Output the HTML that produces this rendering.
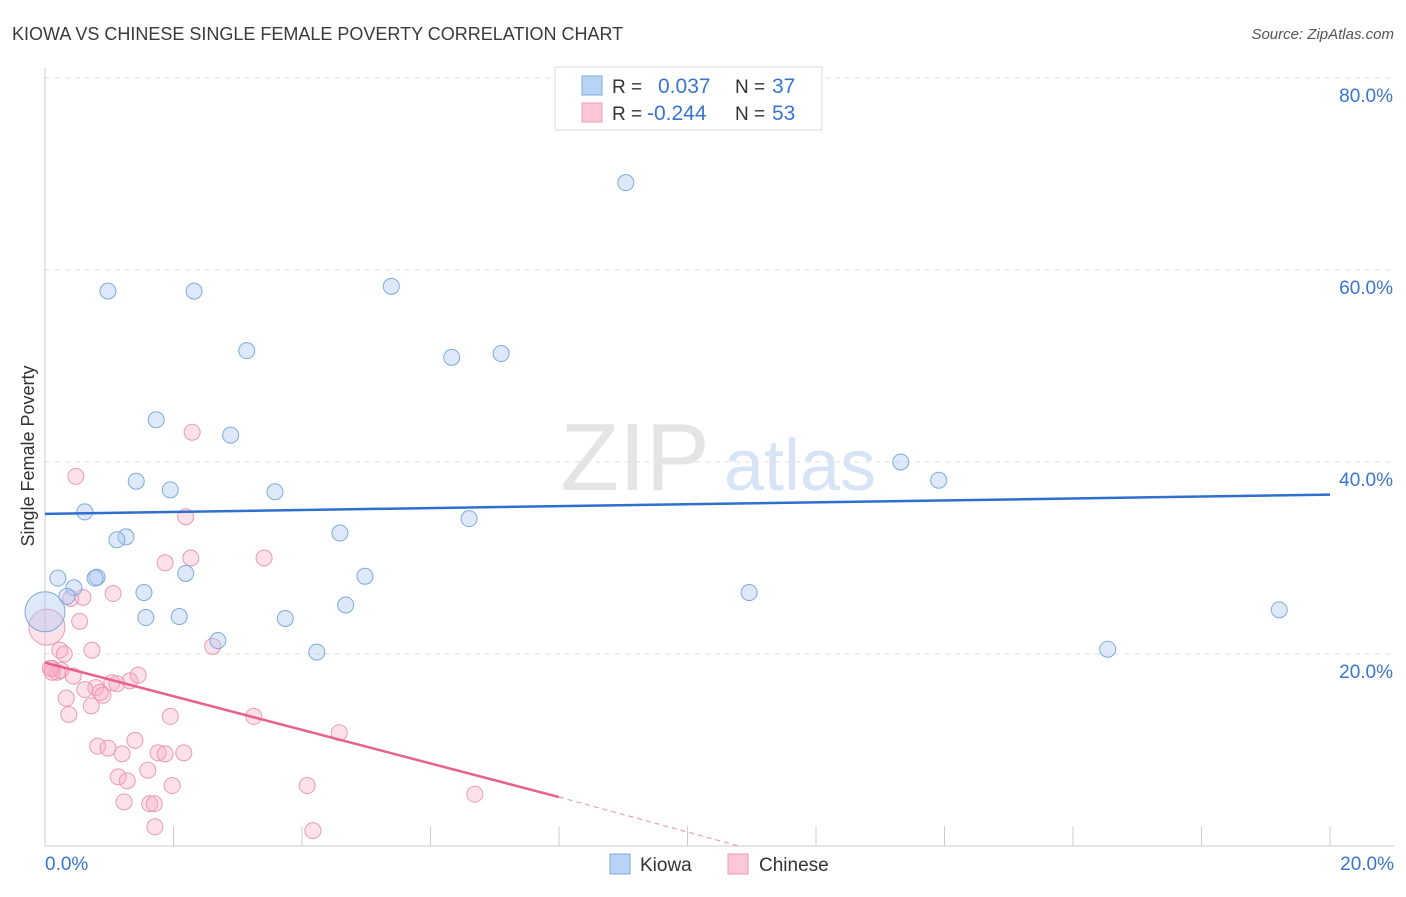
<!DOCTYPE html>
<html><head><meta charset="utf-8"><style>
body{margin:0;background:#fff;font-family:"Liberation Sans",sans-serif;}
svg text{font-family:"Liberation Sans",sans-serif;}
</style></head><body>
<svg id="chart" width="1406" height="892" xmlns="http://www.w3.org/2000/svg">
<text x="12" y="40" font-size="18" fill="#3a3a3a">KIOWA VS CHINESE SINGLE FEMALE POVERTY CORRELATION CHART</text>
<text x="1394" y="39" font-size="15" fill="#555" text-anchor="end" font-style="italic">Source: ZipAtlas.com</text>
<g>
<text x="635" y="490" font-size="96" fill="#e4e4e4" font-family="Liberation Serif" text-anchor="middle">ZIP</text>
<text x="800" y="490" font-size="72" fill="#d6e4f5" text-anchor="middle">atlas</text>
</g>
<g id="grid"></g>
<g id="axes"></g>
<g id="marks"></g>
<text transform="translate(34,456) rotate(-90)" font-size="18" fill="#333" text-anchor="middle">Single Female Poverty</text>
<g>
<rect x="555" y="67" width="267" height="63" fill="#fff" stroke="#ddd"/>
<rect x="582" y="76" width="20" height="19" fill="#b9d3f5" stroke="#7fa9e0"/>
<rect x="582" y="103" width="20" height="19" fill="#fcc8d8" stroke="#eb9ab5"/>
<text x="612" y="93" font-size="19" fill="#333">R =</text>
<text x="658" y="93" font-size="21" fill="#3a74d0">0.037</text>
<text x="735" y="93" font-size="19" fill="#333">N =</text>
<text x="772" y="93" font-size="21" fill="#3a74d0">37</text>
<text x="612" y="120" font-size="19" fill="#333">R =</text>
<text x="647" y="120" font-size="21" fill="#3a74d0">-0.244</text>
<text x="735" y="120" font-size="19" fill="#333">N =</text>
<text x="772" y="120" font-size="21" fill="#3a74d0">53</text>
</g>
<g>
<rect x="610" y="854" width="20" height="20" fill="#b9d3f5" stroke="#7fa9e0"/>
<text x="640" y="871" font-size="19" fill="#333">Kiowa</text>
<rect x="728" y="854" width="20" height="20" fill="#fcc8d8" stroke="#eb9ab5"/>
<text x="759" y="871" font-size="19" fill="#333">Chinese</text>
</g>
</svg>
<script>
const yTicks=[20,40,60,80];
const yTickLabels=["20.0%","40.0%","60.0%","80.0%"];
const xTicks=[2,4,6,8,10,12,14,16,18,20];
const kiowaX=[0.98,2.32,5.39,9.04,3.14,6.33,7.10,1.73,2.89,1.42,1.95,3.58,0.62,1.26,1.12,4.59,6.60,13.32,13.91,0.20,0.81,0.78,0.45,0.34,2.19,4.98,1.54,1.57,2.09,4.68,3.74,2.69,4.23,10.96,16.54,19.21,0.0];
const kiowaY=[57.8,57.8,58.3,69.1,51.6,50.9,51.3,44.4,42.8,38.0,37.1,36.9,34.8,32.2,31.9,32.6,34.1,40.0,38.1,27.9,28.0,27.9,26.9,26.0,28.4,28.1,26.4,23.8,23.9,25.1,23.7,21.4,20.2,26.4,20.5,24.6,24.4];
const chineseX=[0.48,2.29,2.19,1.87,2.27,3.41,0.59,1.06,0.40,0.54,0.73,0.23,0.30,0.11,0.19,0.25,0.44,1.45,1.32,1.04,0.79,0.62,0.86,0.90,1.12,0.33,0.72,0.37,1.95,3.25,2.61,4.58,0.82,0.98,1.40,1.20,1.76,1.87,2.16,1.60,1.14,1.28,1.98,4.08,1.23,1.63,1.70,1.71,4.17,6.69,0.03,0.08,0.11];
const chineseY=[38.5,43.1,34.3,29.5,30.0,30.0,25.9,26.3,25.8,23.4,20.4,20.4,20.0,18.5,18.1,18.3,17.7,17.8,17.2,17.0,16.5,16.3,16.0,15.7,16.9,15.4,14.6,13.7,13.5,13.5,20.8,11.8,10.4,10.2,11.0,9.6,9.7,9.6,9.7,7.9,7.2,6.8,6.3,6.3,4.6,4.4,4.4,2.0,1.6,5.4,22.8,18.5,18.1];
const bigKiowa=[36];
const bigChinese=[50];
const kiowaTrend=[[0,34.6],[20,36.6]];
const chineseTrend=[[0,19.1],[8,5.1]];
const chineseTrendDash=[[8,5.1],[10.8,0]];
const NS="http://www.w3.org/2000/svg";
const X=v=>45+v*64.25, Y=v=>846-v*9.6;
function mk(t,a,p){const e=document.createElementNS(NS,t);for(const k in a)e.setAttribute(k,a[k]);p.appendChild(e);return e;}
const grid=document.getElementById('grid'),axes=document.getElementById('axes'),marks=document.getElementById('marks');
yTicks.forEach((v,i)=>{
 const l=mk('line',{x1:45,x2:1394,y1:Y(v),y2:Y(v),stroke:'#e2e2e2','stroke-dasharray':'5,5'},grid);
 
 
 const t=mk('text',{x:1393,y:Y(v)+24,'font-size':19,fill:'#3a74d0','text-anchor':'end'},axes);
 t.textContent=yTickLabels[i];
 
 
});
const xa=mk('line',{x1:45,x2:1394,y1:846,y2:846,stroke:'#ccc'},axes);


const ya=mk('line',{x1:45,x2:45,y1:68,y2:846,stroke:'#ccc'},axes);


xTicks.forEach(v=>{
 const l=mk('line',{x1:X(v),x2:X(v),y1:826,y2:846,stroke:'#ccc'},axes);
 
 
});
const x0=mk('text',{x:45,y:870,'font-size':19,fill:'#3a74d0'},axes);x0.textContent='0.0%';


const x1=mk('text',{x:1394,y:870,'font-size':19,fill:'#3a74d0','text-anchor':'end'},axes);x1.textContent='20.0%';


chineseX.forEach((v,i)=>{
 const c=mk('circle',{cx:X(v),cy:Y(chineseY[i]),r:bigChinese.includes(i)?18:8,fill:'rgba(248,170,196,0.35)',stroke:'#eb9ab5','stroke-width':1},marks);
 
 
});
kiowaX.forEach((v,i)=>{
 const c=mk('circle',{cx:X(v),cy:Y(kiowaY[i]),r:bigKiowa.includes(i)?20:8,fill:'rgba(170,200,240,0.4)',stroke:'#7fa9e0','stroke-width':1},marks);
 
 
});
const kt=mk('line',{x1:X(kiowaTrend[0][0]),y1:Y(kiowaTrend[0][1]),x2:X(kiowaTrend[1][0]),y2:Y(kiowaTrend[1][1]),stroke:'#2f6fd0','stroke-width':2.5},marks);


const ct=mk('line',{x1:X(chineseTrend[0][0]),y1:Y(chineseTrend[0][1]),x2:X(chineseTrend[1][0]),y2:Y(chineseTrend[1][1]),stroke:'#e8618c','stroke-width':2.5},marks);


const cd=mk('line',{x1:X(chineseTrendDash[0][0]),y1:Y(chineseTrendDash[0][1]),x2:X(chineseTrendDash[1][0]),y2:Y(chineseTrendDash[1][1]),stroke:'#e8a0b8','stroke-width':1.2,'stroke-dasharray':'5,4'},marks);


</script>
</body></html>
